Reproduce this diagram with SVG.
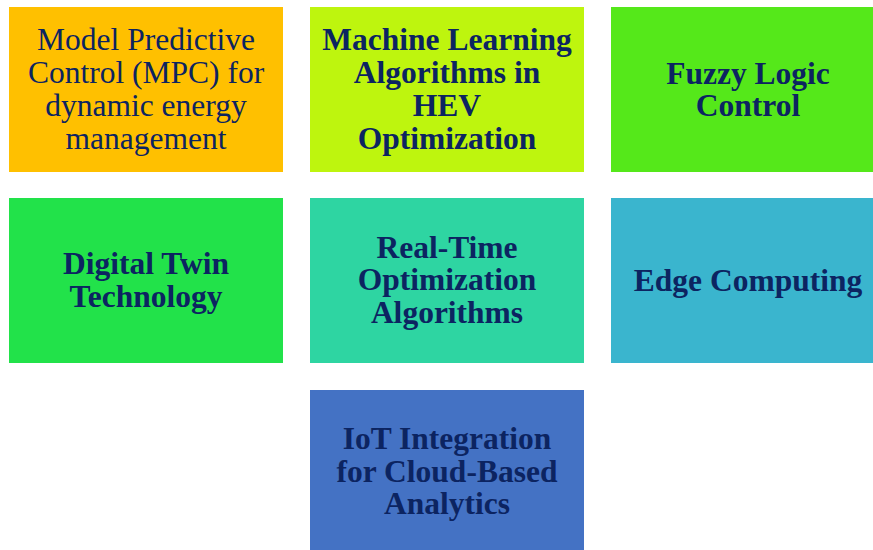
<svg xmlns="http://www.w3.org/2000/svg" width="873" height="550" viewBox="0 0 873 550">
  <style>
    .box { stroke: none; }
    .lbl { font-family: "Liberation Serif", "Times New Roman", serif; font-size: 31.5px; fill: #0C2461; text-anchor: middle; }
    .b { font-weight: bold; }
  </style>
  <rect width="873" height="550" fill="#FFFFFF"/>

  <g id="mpc">
    <rect class="box" x="9" y="7" width="274" height="165" fill="#FFC000"/>
    <text class="lbl"><tspan x="146" y="50">Model Predictive</tspan><tspan x="146" y="83">Control (MPC) for</tspan><tspan x="146" y="116">dynamic energy</tspan><tspan x="146" y="149">management</tspan></text>
  </g>

  <g id="ml">
    <rect class="box" x="310" y="7" width="274" height="165" fill="#BEF50E"/>
    <text class="lbl b"><tspan x="447" y="50">Machine Learning</tspan><tspan x="447" y="83">Algorithms in</tspan><tspan x="447" y="116">HEV</tspan><tspan x="447" y="149">Optimization</tspan></text>
  </g>

  <g id="fuzzy">
    <rect class="box" x="611" y="7" width="274" height="165" fill="#55E81A"/>
    <text class="lbl b"><tspan x="748" y="84">Fuzzy Logic</tspan><tspan x="748" y="116">Control</tspan></text>
  </g>

  <g id="twin">
    <rect class="box" x="9" y="198" width="274" height="165" fill="#22E24A"/>
    <text class="lbl b"><tspan x="146" y="274">Digital Twin</tspan><tspan x="146" y="306.5">Technology</tspan></text>
  </g>

  <g id="rto">
    <rect class="box" x="310" y="198" width="274" height="165" fill="#2ED5A2"/>
    <text class="lbl b"><tspan x="447" y="258">Real-Time</tspan><tspan x="447" y="290">Optimization</tspan><tspan x="447" y="323">Algorithms</tspan></text>
  </g>

  <g id="edge">
    <rect class="box" x="611" y="198" width="274" height="165" fill="#3AB5CE"/>
    <text class="lbl b"><tspan x="748" y="291">Edge Computing</tspan></text>
  </g>

  <g id="iot">
    <rect class="box" x="310" y="390" width="274" height="165" fill="#4472C4"/>
    <text class="lbl b"><tspan x="447" y="449">IoT Integration</tspan><tspan x="447" y="482">for Cloud-Based</tspan><tspan x="447" y="514">Analytics</tspan></text>
  </g>

  <g id="connectors"/>
</svg>
